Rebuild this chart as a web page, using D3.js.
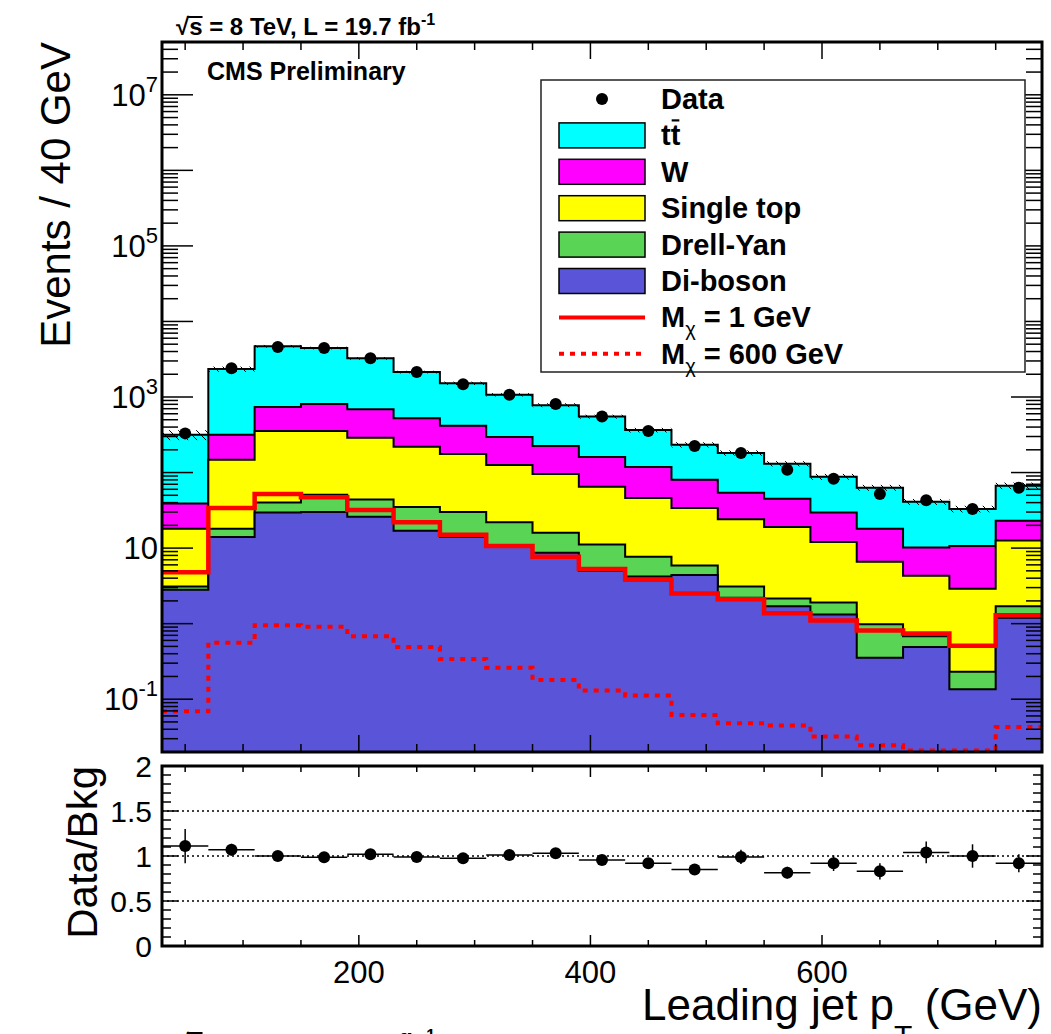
<!DOCTYPE html>
<html lang="en">
<head>
<meta charset="UTF-8">
<title>Leading jet pT</title>
<script src="https://d3js.org/d3.v7.min.js"></script>
<style>
  body { margin: 0; background: #fff; }
  text { font-family: "Liberation Sans", Arial, Helvetica, sans-serif; fill: #000; }
</style>
</head>
<body>
<div id="chart"></div>
<script>

    // ---- data ----
    var binEdges = [30, 70, 110, 150, 190, 230, 270, 310, 350, 390, 430, 470, 510, 550, 590, 630, 670, 710, 750, 790];

    var diboson   = [2.8, 14, 29.5, 30, 26, 17, 14, 11, 8.7, 5.0, 4.2, 4.4, 2.2, 1.7, 1.32, 0.355, 0.49, 0.135, 1.2];
    var drellYan  = [0.3, 4, 10.5, 21, 18, 18, 16, 11, 7.3, 6.2, 3.5, 1.5, 0.9, 0.45, 0.58, 0.625, 0.19, 0.095, 0.5];
    var singleTop = [14.9, 130, 315, 304, 244, 184, 146, 104, 80, 53.8, 38.3, 28.1, 20.9, 16.85, 10.1, 5.62, 3.62, 2.67, 10.9];
    var wjets     = [21, 168, 385, 455, 402, 306, 239, 169, 129, 96, 72, 46, 30, 26, 17.5, 11.4, 5.9, 7.8, 10.4];
    var ttbar     = [277, 2024, 3960, 3640, 2560, 1615, 1105, 775, 555, 389, 247, 153, 128, 86, 58.5, 45, 30.8, 22.3, 44];
    var bkgErr    = [0.15, 0.08, 0.04, 0.04, 0.04, 0.04, 0.05, 0.05, 0.06, 0.06, 0.07, 0.08, 0.08, 0.08, 0.09, 0.09, 0.09, 0.1, 0.1];

    var dataCounts = [330, 2400, 4600, 4450, 3250, 2140, 1480, 1070, 810, 550, 355, 225, 182, 109, 83, 52, 43, 33, 63];
    var sigM1   = [4.8, 34, 52, 47, 32, 22, 15, 10.7, 7.7, 5.3, 3.8, 2.5, 2.1, 1.37, 1.1, 0.81, 0.74, 0.51, 1.29];
    var sigM600 = [0.069, 0.56, 0.95, 0.91, 0.68, 0.49, 0.34, 0.26, 0.18, 0.13, 0.112, 0.062, 0.048, 0.045, 0.032, 0.0246, 0.021, 0.021, 0.043];

    var ratio    = [1.11, 1.07, 1.00, 0.985, 1.02, 0.99, 0.975, 1.01, 1.03, 0.955, 0.92, 0.85, 0.99, 0.815, 0.92, 0.83, 1.04, 1.00, 0.92];
    var ratioErr = [0.19, 0.065, 0.02, 0.02, 0.025, 0.025, 0.03, 0.03, 0.035, 0.04, 0.045, 0.045, 0.08, 0.065, 0.087, 0.09, 0.12, 0.13, 0.1];

    var xTickLabels = [200, 400, 600];
    var yLogLabels = [7, 5, 3, 1, -1];
    var ratioTickLabels = ["0", "0.5", "1", "1.5", "2"];

    var keys = ["diboson", "drellYan", "singleTop", "wjets", "ttbar"];
    var colors = {ttbar: "#00ffff", wjets: "#ff00ff", singleTop: "#ffff00", drellYan: "#59d454", diboson: "#5954d8"};

    // ---- layout ----
    var w = 1051, h = 1034;
    var L = 162, R = 1042, T = 42, B = 752;
    var RT = 766, RB = 946;

    var svg = d3.select("#chart").append("svg")
        .attr("width", w)
        .attr("height", h);

    var x = d3.scaleLinear().domain([30, 790]).range([L, R]);
    var y = d3.scaleLog().domain([0.02, 5e7]).range([B, T]);
    var yr = d3.scaleLinear().domain([0, 2]).range([RB, RT]);

    var defs = svg.append("defs");
    defs.append("clipPath").attr("id", "clipMain")
        .append("rect").attr("x", L).attr("y", T).attr("width", R - L).attr("height", B - T);
    defs.append("clipPath").attr("id", "clipRatio")
        .append("rect").attr("x", L).attr("y", RT).attr("width", R - L).attr("height", RB - RT);
    var pat = defs.append("pattern").attr("id", "hatch")
        .attr("patternUnits", "userSpaceOnUse").attr("width", 9).attr("height", 9);
    pat.append("path").attr("d", "M0,0 L9,9 M-2,7 L2,11 M7,-2 L11,2")
        .attr("stroke", "#000").attr("stroke-width", 1);

    var rows = dataCounts.map(function (d, i) {
        return {diboson: diboson[i], drellYan: drellYan[i], singleTop: singleTop[i], wjets: wjets[i], ttbar: ttbar[i]};
    });
    var series = d3.stack().keys(keys)(rows);
    var centers = dataCounts.map(function (d, i) { return (binEdges[i] + binEdges[i + 1]) / 2; });

    function steps(vals) {
        var pts = vals.map(function (v, i) { return [binEdges[i], v]; });
        pts.push([binEdges[vals.length], vals[vals.length - 1]]);
        return pts;
    }

    var main = svg.append("g").attr("clip-path", "url(#clipMain)");

    var area = d3.area()
        .x(function (d) { return x(d[0]); })
        .y0(B)
        .y1(function (d) { return y(d[1]); })
        .curve(d3.curveStepAfter);

    // draw the stack from the top layer down, like a THStack
    series.slice().reverse().forEach(function (s) {
        var tops = s.map(function (d) { return d[1]; });
        main.append("path")
            .attr("d", area(steps(tops)))
            .attr("fill", colors[s.key])
            .attr("stroke", "#000")
            .attr("stroke-width", 2);
    });

    // uncertainty band on the total
    var total = series[series.length - 1].map(function (d) { return d[1]; });
    main.selectAll("rect.band")
        .data(total)
        .enter()
        .append("rect")
        .attr("class", "band")
        .attr("x", function (d, i) { return x(binEdges[i]); })
        .attr("width", function (d, i) { return x(binEdges[i + 1]) - x(binEdges[i]); })
        .attr("y", function (d, i) { return y(d * (1 + bkgErr[i])); })
        .attr("height", function (d, i) { return y(d * (1 - bkgErr[i])) - y(d * (1 + bkgErr[i])); })
        .attr("fill", "url(#hatch)");

    var line = d3.line()
        .x(function (d) { return x(d[0]); })
        .y(function (d) { return y(d[1]); })
        .curve(d3.curveStepAfter);

    main.append("path")
        .attr("d", line(steps(sigM1)))
        .attr("fill", "none")
        .attr("stroke", "#ff0000")
        .attr("stroke-width", 4.5);

    main.append("path")
        .attr("d", line(steps(sigM600)))
        .attr("fill", "none")
        .attr("stroke", "#ff0000")
        .attr("stroke-width", 4)
        .attr("stroke-dasharray", "5,6");

    main.selectAll("circle.data")
        .data(dataCounts)
        .enter()
        .append("circle")
        .attr("class", "data")
        .attr("cx", function (d, i) { return x(centers[i]); })
        .attr("cy", function (d) { return y(d); })
        .attr("r", 6)
        .attr("fill", "#000");

    // ---- axes of the main pad ----
    var axes = svg.append("g").attr("stroke", "#000").attr("stroke-width", 1.5);
    d3.range(50, 800, 50).forEach(function (v) {
        var len = v % 200 === 0 ? 17 : 8;
        axes.append("line").attr("x1", x(v)).attr("x2", x(v)).attr("y1", B).attr("y2", B - len);
        axes.append("line").attr("x1", x(v)).attr("x2", x(v)).attr("y1", T).attr("y2", T + len);
    });
    d3.range(-2, 8).forEach(function (k) {
        d3.range(1, 10).forEach(function (m) {
            var v = m * Math.pow(10, k);
            if (v < 0.02 || v > 5e7) return;
            var len = m === 1 ? 31 : 16;
            axes.append("line").attr("x1", L).attr("x2", L + len).attr("y1", y(v)).attr("y2", y(v));
            axes.append("line").attr("x1", R).attr("x2", R - len).attr("y1", y(v)).attr("y2", y(v));
        });
    });
    svg.append("rect")
        .attr("x", L).attr("y", T).attr("width", R - L).attr("height", B - T)
        .attr("fill", "none").attr("stroke", "#000").attr("stroke-width", 3);

    yLogLabels.forEach(function (k) {
        var t = svg.append("text")
            .attr("x", 158)
            .attr("y", y(Math.pow(10, k)) + 11)
            .attr("text-anchor", "end")
            .style("font-size", "31px")
            .text("10");
        if (k !== 1) {
            t.append("tspan").attr("dy", -14).style("font-size", "22px").text(k);
        }
    });

    svg.append("text")
        .attr("transform", "translate(70," + T + ") rotate(-90)")
        .attr("text-anchor", "end")
        .style("font-size", "42px")
        .text("Events / 40 GeV");

    // ---- legend ----
    var leg = svg.append("g");
    leg.append("rect")
        .attr("x", 541).attr("y", 80).attr("width", 484).attr("height", 292)
        .attr("fill", "#fff").attr("stroke", "#222").attr("stroke-width", 1.5);

    var legendRows = [
        {label: "Data", type: "marker"},
        {label: "tt", type: "box", key: "ttbar"},
        {label: "W", type: "box", key: "wjets"},
        {label: "Single top", type: "box", key: "singleTop"},
        {label: "Drell-Yan", type: "box", key: "drellYan"},
        {label: "Di-boson", type: "box", key: "diboson"},
        {label: "= 1 GeV", type: "solid"},
        {label: "= 600 GeV", type: "dashed"}
    ];
    legendRows.forEach(function (r, i) {
        var cy = 99 + i * 36.4;
        if (r.type === "marker") {
            leg.append("circle").attr("cx", 602).attr("cy", cy).attr("r", 6).attr("fill", "#000");
        } else if (r.type === "box") {
            leg.append("rect").attr("x", 559).attr("y", cy - 12.5).attr("width", 86).attr("height", 25)
                .attr("fill", colors[r.key]).attr("stroke", "#000").attr("stroke-width", 1.5);
        } else {
            leg.append("line").attr("x1", 559).attr("x2", 645).attr("y1", cy).attr("y2", cy)
                .attr("stroke", "#ff0000").attr("stroke-width", 4)
                .attr("stroke-dasharray", r.type === "dashed" ? "5,6" : null);
        }
        var t = leg.append("text")
            .attr("x", 661)
            .attr("y", cy + 10)
            .style("font-size", "29px")
            .style("font-weight", "bold");
        if (r.type === "solid" || r.type === "dashed") {
            t.append("tspan").text("M");
            t.append("tspan").attr("dy", 9).style("font-size", "20px").style("font-weight", "normal").text("\u03c7");
            t.append("tspan").attr("dy", -9).text(" " + r.label);
        } else {
            t.text(r.label);
        }
        if (r.key === "ttbar") {
            var node = t.node();
            var x0 = 661 + node.getSubStringLength(0, 1);
            var ww = node.getSubStringLength(1, 1);
            leg.append("line").attr("x1", x0 + 1).attr("x2", x0 + ww - 1)
                .attr("y1", cy - 15).attr("y2", cy - 15)
                .attr("stroke", "#000").attr("stroke-width", 2.2);
        }
    });

    // ---- header texts ----
    svg.append("text")
        .attr("x", 207).attr("y", 80)
        .style("font-size", "25px").style("font-weight", "bold")
        .text("CMS Preliminary");

    function title(g) {
        var t = g.append("text")
            .attr("x", 176).attr("y", 35)
            .style("font-size", "24px").style("font-weight", "bold");
        t.append("tspan").text("\u221As = 8 TeV, L = 19.7 fb");
        t.append("tspan").attr("dy", -10).style("font-size", "16px").text("-1");
        var node = t.node();
        var a = 176 + node.getSubStringLength(0, 1) - 2;
        var b = 176 + node.getSubStringLength(0, 2);
        g.append("line").attr("x1", a).attr("x2", b).attr("y1", 17).attr("y2", 17)
            .attr("stroke", "#000").attr("stroke-width", 2);
    }
    title(svg.append("g"));
    // a second copy of the header sits below the canvas, only its top shows
    title(svg.append("g").attr("transform", "translate(0,1016)"));

    // ---- ratio pad ----
    var rp = svg.append("g");
    [0.5, 1, 1.5].forEach(function (v) {
        rp.append("line").attr("x1", L).attr("x2", R).attr("y1", yr(v)).attr("y2", yr(v))
            .attr("stroke", "#000").attr("stroke-width", 1.3).attr("stroke-dasharray", "2,3");
    });
    var rpts = rp.append("g").attr("clip-path", "url(#clipRatio)");
    ratio.forEach(function (r, i) {
        rpts.append("line")
            .attr("x1", x(binEdges[i])).attr("x2", x(binEdges[i + 1]))
            .attr("y1", yr(r)).attr("y2", yr(r))
            .attr("stroke", "#000").attr("stroke-width", 1.5);
        rpts.append("line")
            .attr("x1", x(centers[i])).attr("x2", x(centers[i]))
            .attr("y1", yr(r - ratioErr[i])).attr("y2", yr(r + ratioErr[i]))
            .attr("stroke", "#000").attr("stroke-width", 1.5);
        rpts.append("circle")
            .attr("cx", x(centers[i])).attr("cy", yr(r)).attr("r", 6).attr("fill", "#000");
    });

    var raxes = svg.append("g").attr("stroke", "#000").attr("stroke-width", 1.5);
    d3.range(50, 800, 50).forEach(function (v) {
        var len = v % 200 === 0 ? 11 : 6;
        raxes.append("line").attr("x1", x(v)).attr("x2", x(v)).attr("y1", RB).attr("y2", RB - len);
        raxes.append("line").attr("x1", x(v)).attr("x2", x(v)).attr("y1", RT).attr("y2", RT + len);
    });
    d3.range(0, 21).forEach(function (j) {
        var v = j / 10;
        var len = j % 5 === 0 ? 16 : 9;
        raxes.append("line").attr("x1", L).attr("x2", L + len).attr("y1", yr(v)).attr("y2", yr(v));
        raxes.append("line").attr("x1", R).attr("x2", R - len).attr("y1", yr(v)).attr("y2", yr(v));
    });
    svg.append("rect")
        .attr("x", L).attr("y", RT).attr("width", R - L).attr("height", RB - RT)
        .attr("fill", "none").attr("stroke", "#000").attr("stroke-width", 3);

    ratioTickLabels.forEach(function (s) {
        svg.append("text")
            .attr("x", 152).attr("y", yr(+s) + 11)
            .attr("text-anchor", "end")
            .style("font-size", "30px")
            .text(s);
    });
    xTickLabels.forEach(function (v) {
        svg.append("text")
            .attr("x", x(v)).attr("y", 983)
            .attr("text-anchor", "middle")
            .style("font-size", "31px")
            .text(v);
    });

    svg.append("text")
        .attr("transform", "translate(97," + RT + ") rotate(-90)")
        .attr("text-anchor", "end")
        .style("font-size", "42px")
        .text("Data/Bkg");

    var xl = svg.append("text")
        .attr("x", R).attr("y", 1020)
        .attr("text-anchor", "end")
        .style("font-size", "44px");
    xl.append("tspan").text("Leading jet p");
    xl.append("tspan").attr("dy", 26).style("font-size", "30px").text("T");
    xl.append("tspan").attr("dy", -26).text(" (GeV)");

</script>
</body>
</html>
